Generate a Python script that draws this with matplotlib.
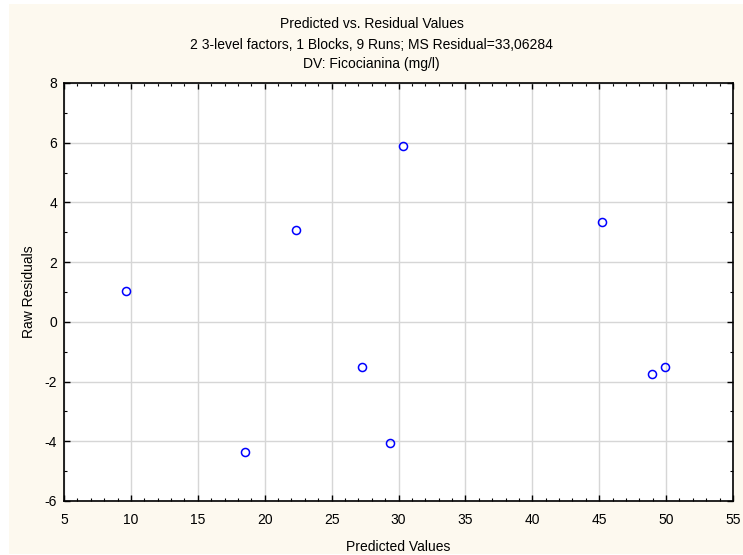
import matplotlib
matplotlib.use("Agg")
import matplotlib.pyplot as plt
from matplotlib.patches import Rectangle
from matplotlib.ticker import MultipleLocator

plt.rcParams['font.family'] = ['Liberation Sans', 'DejaVu Sans']

# Predicted values and raw residuals
predicted = [9.6, 18.55, 22.35, 27.27, 29.37, 30.34, 45.23, 48.92, 49.92]
residuals = [1.03, -4.35, 3.08, -1.51, -4.06, 5.89, 3.33, -1.76, -1.51]

x_ticks = [5, 10, 15, 20, 25, 30, 35, 40, 45, 50, 55]
y_ticks = [-6, -4, -2, 0, 2, 4, 6, 8]

W, H = 743, 555
bg = '#fdf9ef'
fig = plt.figure(figsize=(W / 100, H / 100), dpi=100, facecolor='white')

# cream panel behind the chart, leaving a thin white margin
fig.add_artist(Rectangle((9 / W, 1 / H), 1 - 9 / W, 1 - 5 / H,
                         transform=fig.transFigure, facecolor=bg,
                         edgecolor='none', zorder=-10))

ax = fig.add_axes([64 / W, 1 - 501 / H, (733 - 64) / W, (501 - 83) / H])
ax.set_facecolor('white')

ax.plot(predicted, residuals, linestyle='none', marker='o', markersize=5.8,
        markerfacecolor='none', markeredgecolor='#0000ff', markeredgewidth=1.1,
        zorder=3)

ax.set_xlim(5, 55)
ax.set_ylim(-6, 8)
ax.set_xticks(x_ticks)
ax.set_yticks(y_ticks)
ax.set_xticklabels([str(t) for t in x_ticks])
ax.set_yticklabels([str(t) for t in y_ticks])
ax.xaxis.set_minor_locator(MultipleLocator(1))
ax.yaxis.set_minor_locator(MultipleLocator(1))

ax.grid(True, which='major', color='#d6d6d6', linewidth=1.0, zorder=0)
ax.set_axisbelow(True)

ax.tick_params(which='both', direction='in', top=True, right=True,
               labelsize=10, colors='black')
ax.tick_params(which='major', length=4, width=1.0)
ax.tick_params(which='minor', length=2.5, width=0.8)
ax.tick_params(axis='x', which='major', pad=9)
ax.tick_params(axis='y', which='major', pad=5)

for side in ['left', 'right', 'top', 'bottom']:
    ax.spines[side].set_linewidth(1.2)
    ax.spines[side].set_color('black')

ax.set_xlabel('Predicted Values', fontsize=10, labelpad=9)
ax.set_ylabel('Raw Residuals', fontsize=10, labelpad=6)

fig.text(0.5, 1 - 24 / H, 'Predicted vs. Residual Values', ha='center', va='center', fontsize=10)
fig.text(0.5, 1 - 45 / H, '2 3-level factors, 1 Blocks, 9 Runs; MS Residual=33,06284',
         ha='center', va='center', fontsize=10)
fig.text(0.5, 1 - 64 / H, 'DV: Ficocianina (mg/l)', ha='center', va='center', fontsize=10)

fig.savefig('out.png', dpi=100, facecolor='white')
